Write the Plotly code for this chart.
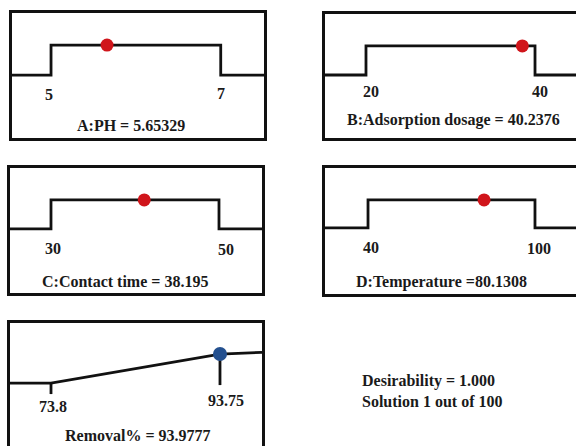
import plotly.graph_objects as go

W, H = 576, 446

# ---------------- data ----------------
factor_names = ["A:PH", "B:Adsorption dosage", "C:Contact time", "D:Temperature"]
factor_low = [5, 20, 30, 40]
factor_high = [7, 40, 50, 100]
low_labels = ["5", "20", "30", "40"]
high_labels = ["7", "40", "50", "100"]
optimum_text = ["5.65329", "40.2376", "38.195", "80.1308"]
title_sep = [" = ", " = ", " = ", " ="]
dot_position = [5.66, 38.5, 41.1, 81.7]   # where the optimum marker sits in the picture

response_name = "Removal%"
response_low = 73.8
response_high = 93.75
response_low_label = "73.8"
response_high_label = "93.75"
response_value_text = "93.9777"
response_dot = 93.75

desirability_text = "1.000"
solution_text = "Solution 1 out of 100"

# ---------------- layout geometry (pixels) ----------------
boxes = [(12, 13, 264, 138), (325, 14, 576, 138), (10, 168, 262, 293),
         (325, 168, 576, 294), (10, 323, 262, 446)]
x_ranges = [[4.54, 7.51], [15.15, 44.85], [25.12, 55.12], [24.54, 114.74], [68.96, 98.71]]
y_ranges = [[-2.10, 2.07], [-2.17, 2.10], [-2.21, 2.10], [-2.36, 2.14], [-2.17, 2.07]]
title_centers = [(131, 125), (453, 120), (125, 281), (441, 282), (138, 435)]
label_shift = [(-2, 19, 0, 18), (5, 17, 5, 17), (2, 20, 7, 21), (3, 20, 4, 21)]
right_open = [False, True, False, True, False]

FONT = "Liberation Serif, Times New Roman, serif"
BLACK = "#111111"
TXT = "#1a1a1a"
RED = "#d0151b"
BLUE = "#24508f"
FS = 16

fig = go.Figure()

def ax(i):
    return ("x" if i == 0 else f"x{i+1}"), ("y" if i == 0 else f"y{i+1}")

# factor panels
for i in range(4):
    xa, ya = ax(i)
    lo, hi = factor_low[i], factor_high[i]
    r0, r1 = x_ranges[i]
    fig.add_trace(go.Scatter(x=[r0, lo, lo, hi, hi, r1], y=[0, 0, 1, 1, 0, 0],
                             mode="lines", line=dict(color=BLACK, width=2.8),
                             xaxis=xa, yaxis=ya, showlegend=False, hoverinfo="skip"))
    fig.add_trace(go.Scatter(x=[dot_position[i]], y=[1], mode="markers",
                             marker=dict(color=RED, size=13, line=dict(width=0)),
                             xaxis=xa, yaxis=ya, showlegend=False))
    dxl, dyl, dxh, dyh = label_shift[i]
    fig.add_annotation(x=lo, y=0, xref=xa, yref=ya, text=f"<b>{low_labels[i]}</b>",
                       showarrow=False, xshift=dxl, yshift=-dyl,
                       font=dict(family=FONT, size=FS, color=TXT))
    fig.add_annotation(x=hi, y=0, xref=xa, yref=ya, text=f"<b>{high_labels[i]}</b>",
                       showarrow=False, xshift=dxh, yshift=-dyh,
                       font=dict(family=FONT, size=FS, color=TXT))

# response panel
xa, ya = ax(4)
r0, r1 = x_ranges[4]
fig.add_trace(go.Scatter(x=[r0, response_low, response_high, r1], y=[0, 0, 1, 1.06],
                         mode="lines", line=dict(color=BLACK, width=2.8),
                         xaxis=xa, yaxis=ya, showlegend=False, hoverinfo="skip"))
fig.add_trace(go.Scatter(x=[response_low, response_low], y=[0, -0.38], mode="lines",
                         line=dict(color=BLACK, width=2.8), xaxis=xa, yaxis=ya,
                         showlegend=False, hoverinfo="skip"))
fig.add_trace(go.Scatter(x=[response_high, response_high], y=[1, -0.07], mode="lines",
                         line=dict(color=BLACK, width=2.8), xaxis=xa, yaxis=ya,
                         showlegend=False, hoverinfo="skip"))
fig.add_trace(go.Scatter(x=[response_dot], y=[1], mode="markers",
                         marker=dict(color=BLUE, size=14, line=dict(width=0)),
                         xaxis=xa, yaxis=ya, showlegend=False))
fig.add_annotation(x=response_low, y=0, xref=xa, yref=ya, text=f"<b>{response_low_label}</b>",
                   showarrow=False, xshift=2, yshift=-23,
                   font=dict(family=FONT, size=FS, color=TXT))
fig.add_annotation(x=response_high, y=0, xref=xa, yref=ya, text=f"<b>{response_high_label}</b>",
                   showarrow=False, xshift=6, yshift=-17,
                   font=dict(family=FONT, size=FS, color=TXT))

# axes
layout = {}
for i, (l, t, r, b) in enumerate(boxes):
    xk = "xaxis" if i == 0 else f"xaxis{i+1}"
    yk = "yaxis" if i == 0 else f"yaxis{i+1}"
    xa, ya = ax(i)
    layout[xk] = dict(domain=[l / W, r / W], range=x_ranges[i], anchor=ya,
                      showline=True, linecolor=BLACK, linewidth=3,
                      mirror=(i != 4), side=("top" if i == 4 else "bottom"),
                      showticklabels=False, ticks="", showgrid=False, zeroline=False,
                      fixedrange=True)
    layout[yk] = dict(domain=[1 - b / H, 1 - t / H], range=y_ranges[i], anchor=xa,
                      showline=True, linecolor=BLACK, linewidth=3,
                      mirror=(not right_open[i]),
                      showticklabels=False, ticks="", showgrid=False, zeroline=False,
                      fixedrange=True)
fig.update_layout(**layout)

# titles
titles = [f"{factor_names[i]}{title_sep[i]}{optimum_text[i]}" for i in range(4)]
titles.append(f"{response_name} = {response_value_text}")
for (cx, cy), txt in zip(title_centers, titles):
    fig.add_annotation(x=cx / W, y=1 - cy / H, xref="paper", yref="paper",
                       text=f"<b>{txt}</b>", showarrow=False,
                       xanchor="center", yanchor="middle",
                       font=dict(family=FONT, size=FS, color=TXT))

fig.add_annotation(x=360 / W, y=1 - 391 / H, xref="paper", yref="paper",
                   text=f"<b>Desirability = {desirability_text}<br>{solution_text}</b>",
                   showarrow=False, xanchor="left", yanchor="middle", align="left",
                   font=dict(family=FONT, size=FS, color=TXT))

fig.update_layout(width=W, height=H, margin=dict(l=0, r=0, t=0, b=0),
                  paper_bgcolor="white", plot_bgcolor="white", showlegend=False)

fig.write_html("out.html")
